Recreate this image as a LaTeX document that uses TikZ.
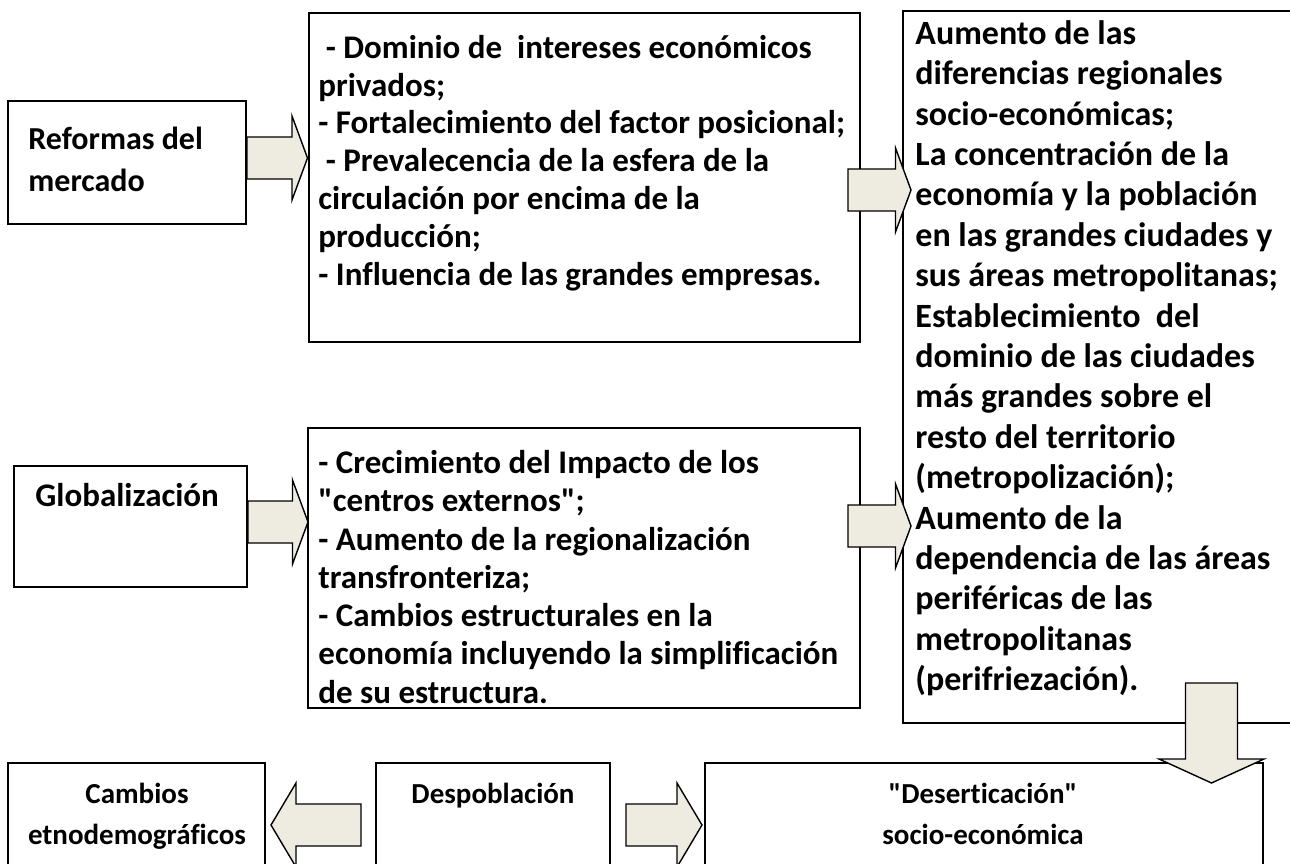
\documentclass[tikz,border=0pt]{standalone}
\usepackage{fontspec}
\setmainfont{Carlito}[Ligatures={TeXOff,NoCommon}]
\usetikzlibrary{fit,calc}
\definecolor{arrowfill}{HTML}{EEECE1}
\newcommand{\fs}[2]{\fontsize{#1}{#2}\selectfont\bfseries}
\tikzset{
  box/.style={draw=black, line width=1pt, fill=white, rectangle, inner sep=0pt},
  txt/.style={inner sep=0pt, anchor=north west, align=left},
  ctxt/.style={inner sep=0pt, anchor=north, align=center},
  blockarrow/.style={draw=black, line width=0.7pt, fill=arrowfill, line join=miter}
}
% horizontal block arrow: #1 start (x used), #2 tip, #3 signed head length
\newcommand{\hblock}[3]{\draw[blockarrow] let \p1=#1, \p2=#2 in
  (\x1,\y2+10.5pt) -- (\x2-#3,\y2+10.5pt) -- (\x2-#3,\y2+21pt) -- (\x2,\y2) --
  (\x2-#3,\y2-21pt) -- (\x2-#3,\y2-10.5pt) -- (\x1,\y2-10.5pt) -- cycle;}
% vertical (downward) block arrow
\newcommand{\vblock}[3]{\draw[blockarrow] let \p1=#1, \p2=#2 in
  (\x2-13pt,\y1) -- (\x2-13pt,\y2+#3) -- (\x2-26.25pt,\y2+#3) -- (\x2,\y2) --
  (\x2+26.25pt,\y2+#3) -- (\x2+13pt,\y2+#3) -- (\x2+13pt,\y1) -- cycle;}
\begin{document}
\begin{tikzpicture}[x=0.5pt,y=-0.5pt]
\useasboundingbox (0,0) rectangle (1290,863);
\clip (0,0) rectangle (1290,863);
\fill[white] (0,0) rectangle (1290,863);
% boxes
\node[box, fit={(8,101) (246,224)}] (A) {};
\node[box, fit={(309,13) (860,342)}] (B) {};
\node[box, fit={(14,466) (247,587)}] (C) {};
\node[box, fit={(308,428) (860,708)}] (D) {};
\node[box, fit={(903,11) (1330,723)}] (R) {};
\node[box, fit={(8,763) (265,890)}] (E) {};
\node[box, fit={(376,763) (610,890)}] (F) {};
\node[box, fit={(705,763) (1263,890)}] (G) {};
% arrow end points
\coordinate (tAB) at (307.5,158);
\coordinate (tCD) at (308,522);
\coordinate (sBR) at (848,190);
\coordinate (tBR) at (911,190);
\coordinate (sDR) at (848,526);
\coordinate (tDR) at (911,526);
\coordinate (sRG) at (1211.5,683);
\coordinate (tRG) at (1211.5,783);
\coordinate (sFE) at (361,825);
\coordinate (tFE) at (271,825);
\coordinate (sFG) at (626,825);
\coordinate (tFG) at (702,825);
% arrows
\hblock{(A.east)}{(tAB)}{7.75pt}
\hblock{(C.east)}{(tCD)}{7.75pt}
\hblock{(sBR)}{(tBR)}{7.75pt}
\hblock{(sDR)}{(tDR)}{7.75pt}
\hblock{(sFE)}{(tFE)}{-12.5pt}
\hblock{(sFG)}{(tFG)}{12.5pt}
\vblock{(sRG)}{(tRG)}{12pt}
% texts
\node[txt, font=\fs{16}{21}] (At) at (28,119.6) {\strut Reformas del\\mercado};
\node[txt, font=\fs{16.5}{18.9}] (Bt) at (318,31.5) {\strut\ - Dominio de\ \ intereses económicos\\privados;\\- Fortalecimiento del factor posicional;\\\ - Prevalecencia de la esfera de la\\circulación por encima de la\\producción;\\- Influencia de las grandes empresas.};
\node[txt, font=\fs{16.5}{21}] (Ct) at (35,476.6) {\strut Globalización};
\node[txt, font=\fs{16.5}{19.15}] (Dt) at (318,446.2) {\strut - Crecimiento del Impacto de los\\"centros externos";\\- Aumento de la regionalización\\transfronteriza;\\- Cambios estructurales en la\\economía incluyendo la simplificación\\de su estructura.};
\node[txt, font=\fs{17}{20.2}] (Rt) at (915,15.7) {\strut Aumento de las\\diferencias regionales\\socio-económicas;\\La concentración de la\\economía y la población\\en las grandes ciudades y\\sus áreas metropolitanas;\\Establecimiento\ \ del\\dominio de las ciudades\\más grandes sobre el\\resto del territorio\\(metropolización);\\Aumento de la\\dependencia de las áreas\\periféricas de las\\metropolitanas\\(perifriezación).};
\node[ctxt, font=\fs{14.5}{20.5}] (Et) at (137,774.3) {\strut Cambios\\etnodemográficos};
\node[ctxt, font=\fs{14.5}{20.5}] (Ft) at (493,774.3) {\strut Despoblación};
\node[ctxt, font=\fs{14.5}{20.5}] (Gt) at (983,774.3) {\strut "Deserticación"\\socio-económica};
\end{tikzpicture}
\end{document}
